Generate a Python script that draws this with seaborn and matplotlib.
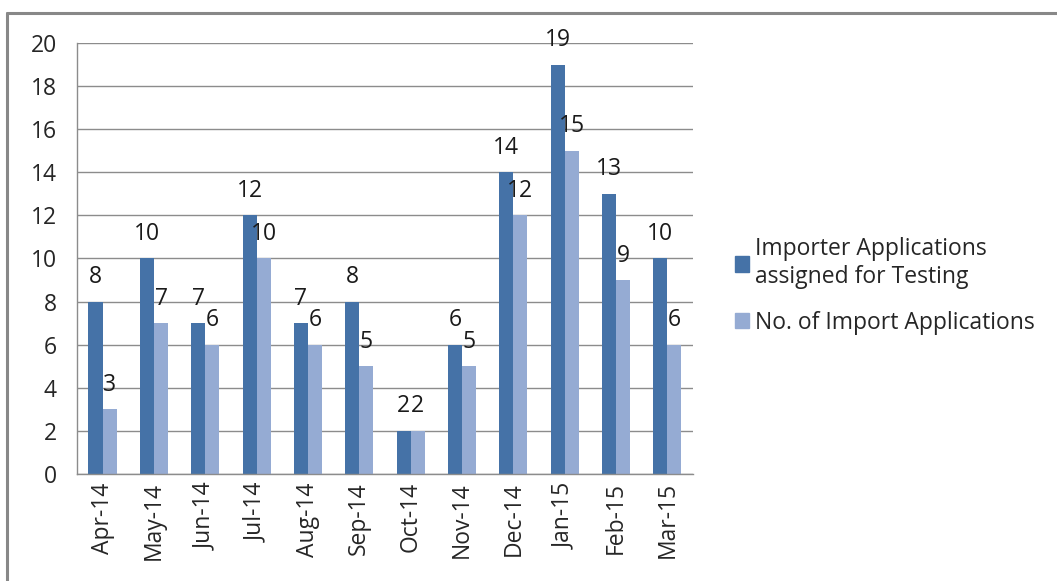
import numpy as np
import pandas as pd
import seaborn as sns
from matplotlib import pyplot as plt
from matplotlib.lines import Line2D

months = ["Apr-14", "May-14", "Jun-14", "Jul-14", "Aug-14", "Sep-14",
		  "Oct-14", "Nov-14", "Dec-14", "Jan-15", "Feb-15", "Mar-15"]
assigned = [8, 10, 7, 12, 7, 8, 2, 6, 14, 19, 13, 10]
imports = [3, 7, 6, 10, 6, 5, 2, 5, 12, 15, 9, 6]
series_names = ["Importer Applications\nassigned for Testing", "No. of Import Applications"]
y_ticks = list(range(0, 21, 2))

df = pd.DataFrame({
	"Month": months * 2,
	"Count": assigned + imports,
	"Series": [series_names[0]] * len(months) + [series_names[1]] * len(months),
})

sns.set_style("white")
plt.rcParams["font.family"] = ["Open Sans", "DejaVu Sans"]
fs = 16.5

fig = plt.figure(figsize=(10.57, 5.81), dpi=100)
ax = fig.add_axes([0.0728, 0.1842, 0.5828, 0.7418])

sns.barplot(data=df, x="Month", y="Count", hue="Series", order=months, hue_order=series_names,
			palette=["#4572A7", "#95ABD3"], width=0.55, gap=0, saturation=1, linewidth=0, ax=ax)

for c in ax.containers:
	ax.bar_label(c, padding=9, fontsize=fs, color="#1a1a1a")

ax.set_ylim(0, 20)
ax.set_xlim(-0.5, len(months) - 0.5)
ax.set_yticks(y_ticks)
ax.yaxis.grid(True, color="#8c8c8c", linewidth=1)
ax.set_axisbelow(True)
ax.set_xlabel("")
ax.set_ylabel("")

ax.set_xticks(np.arange(len(months)))
ax.set_xticklabels(months, rotation=90, fontsize=fs)
ax.set_xticks(np.arange(-0.5, len(months)), minor=True)
ax.tick_params(axis="x", which="major", length=0, pad=6)
ax.tick_params(axis="x", which="minor", length=6, color="#8c8c8c", width=1, direction="out")
ax.tick_params(axis="y", length=6.5, color="#8c8c8c", width=1, direction="out", pad=8, labelsize=fs)

for side in ["top", "right"]:
	ax.spines[side].set_visible(False)
for side in ["left", "bottom"]:
	ax.spines[side].set_color("#8c8c8c")
	ax.spines[side].set_linewidth(1)

ax.get_legend().remove()
handles = [plt.Rectangle((0, 0), 1, 1, color=col) for col in ["#4572A7", "#95ABD3"]]
fig.legend(handles, series_names, loc="center left", bbox_to_anchor=(0.676, 0.508),
		   frameon=False, fontsize=fs, handlelength=0.6, handleheight=0.65,
		   handletextpad=0.25, labelspacing=0.95)

# outer chart border (top and left edges only are visible)
fig.add_artist(Line2D([7 / 1057, 1], [1 - 13 / 581, 1 - 13 / 581], color="#888888", linewidth=2.2))
fig.add_artist(Line2D([7 / 1057, 7 / 1057], [0, 1 - 13 / 581], color="#888888", linewidth=2.2))

fig.savefig("out.png", dpi=100, facecolor="white")
